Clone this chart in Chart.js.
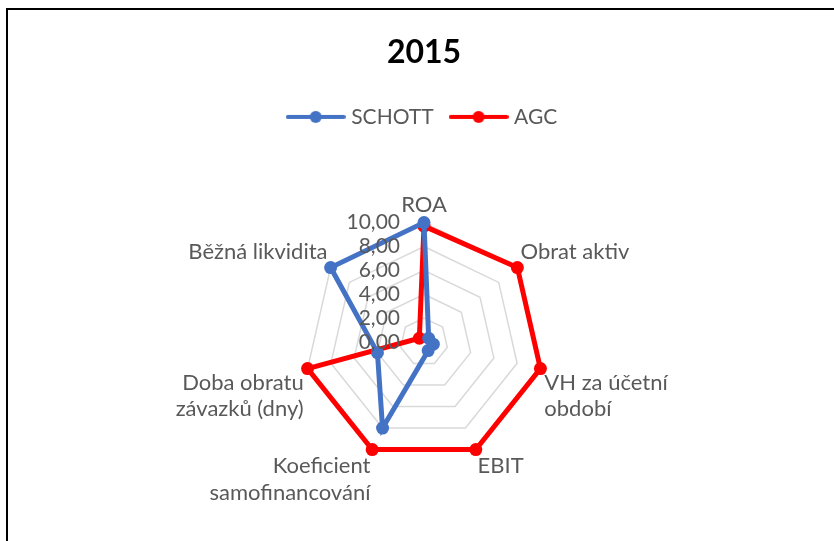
<!DOCTYPE html>
<html>
<head>
<meta charset="utf-8">
<script src="https://cdn.jsdelivr.net/npm/chart.js"></script>
<style>
  html, body { margin: 0; padding: 0; background: #fff; }
  #wrap { position: relative; width: 834px; height: 541px; overflow: hidden; }
  #wrap canvas { position: absolute; left: 0; top: 0; }
  #frame { position: absolute; left: 6px; top: 8px; right: -10px; bottom: -10px; border: 2px solid #000; pointer-events: none; }
</style>
</head>
<body>
<div id="wrap">
  <canvas id="radarChart" width="834" height="541"></canvas>
  <div id="frame"></div>
</div>
<script>
const categories = [
  'ROA',
  'Obrat aktiv',
  ['VH za účetní', 'období'],
  'EBIT',
  ['Koeficient', 'samofinancování'],
  ['Doba obratu', 'závazků (dny)'],
  'Běžná likvidita'
];
const schottValues = [10, 0.5, 0.8, 0.8, 8, 4, 10];
const agcValues = [9.7, 10, 10, 10, 10, 10, 0.5];
const tickValues = [0, 2, 4, 6, 8, 10];
const tickLabels = ['0,00', '2,00', '4,00', '6,00', '8,00', '10,00'];

const BLUE = '#4472C4';
const RED = '#FF0000';
const GREY_TEXT = '#595959';
const FONT = 'Lato';
const legendGap = 49;

function legendIcon(color) {
  const c = document.createElement('canvas');
  c.width = 60; c.height = 16;
  const g = c.getContext('2d');
  g.strokeStyle = color; g.lineWidth = 4; g.lineCap = 'round';
  g.beginPath(); g.moveTo(2, 8); g.lineTo(58, 8); g.stroke();
  g.fillStyle = color;
  g.beginPath(); g.arc(30, 8, 6, 0, Math.PI * 2); g.fill();
  return c;
}

// extra space under the legend, like the gap in the Excel chart
const legendSpacer = {
  id: 'legendSpacer',
  beforeInit(chart) {
    const fit = chart.legend.fit;
    chart.legend.fit = function () { fit.call(this); this.height += legendGap; };
  }
};

// tick labels sit left of the vertical axis and on top of the series
const tickLabelPlugin = {
  id: 'tickLabels',
  afterDatasetsDraw(chart) {
    const s = chart.scales.r;
    const ctx = chart.ctx;
    ctx.save();
    ctx.font = `21px ${FONT}`;
    ctx.fillStyle = GREY_TEXT;
    ctx.textAlign = 'right';
    ctx.textBaseline = 'middle';
    s.ticks.forEach(t => {
      ctx.fillText(t.label, s.xCenter - 24, s.yCenter - s.getDistanceFromCenterForValue(t.value));
    });
    ctx.restore();
  }
};

new Chart(document.getElementById('radarChart').getContext('2d'), {
  type: 'radar',
  data: {
    labels: categories,
    datasets: [
      { label: 'SCHOTT', data: schottValues, borderColor: BLUE, backgroundColor: BLUE,
        pointBackgroundColor: BLUE, pointBorderColor: BLUE, borderWidth: 5,
        pointRadius: 6.5, pointBorderWidth: 0, fill: false },
      { label: 'AGC', data: agcValues, borderColor: RED, backgroundColor: RED,
        pointBackgroundColor: RED, pointBorderColor: RED, borderWidth: 5,
        pointRadius: 6.5, pointBorderWidth: 0, fill: false }
    ]
  },
  options: {
    responsive: false,
    animation: false,
    devicePixelRatio: 1,
    layout: { padding: { left: 14, right: 0, top: 0, bottom: 28 } },
    plugins: {
      title: {
        display: true, text: '2015', color: '#000',
        font: { family: FONT, size: 32, weight: 'bold' },
        padding: { top: 33, bottom: 15 }
      },
      legend: {
        position: 'top',
        labels: {
          color: GREY_TEXT, font: { family: FONT, size: 21 },
          usePointStyle: true, pointStyleWidth: 50, padding: 20,
          generateLabels: chart => chart.data.datasets.map((ds, i) => ({
            text: ds.label, fillStyle: ds.borderColor, strokeStyle: ds.borderColor,
            lineWidth: 0, pointStyle: legendIcon(ds.borderColor), hidden: false,
            datasetIndex: i, fontColor: GREY_TEXT
          }))
        }
      },
      tooltip: { enabled: false }
    },
    scales: {
      r: {
        min: 0, max: 10,
        ticks: {
          stepSize: 2, display: false,
          callback: v => tickLabels[tickValues.indexOf(v)] ?? v
        },
        grid: { color: '#D9D9D9', lineWidth: 1.5 },
        angleLines: { display: false },
        pointLabels: { color: GREY_TEXT, font: { family: FONT, size: 22 }, padding: 4 }
      }
    }
  },
  plugins: [legendSpacer, tickLabelPlugin]
});
</script>
</body>
</html>
